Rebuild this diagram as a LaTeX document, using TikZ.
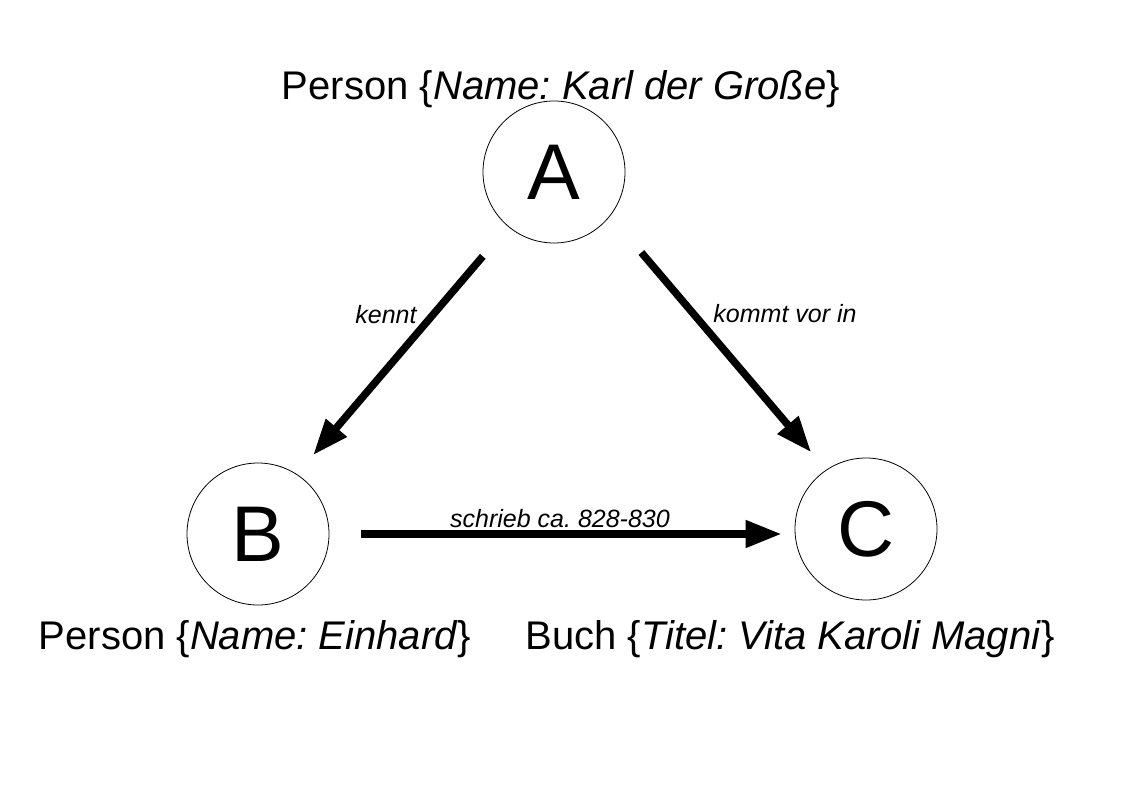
\documentclass[tikz,border=0pt]{standalone}
\usepackage{fontspec}
\setmainfont{Liberation Sans}
\usetikzlibrary{arrows.meta, positioning}
\frenchspacing

\begin{document}
\begin{tikzpicture}[
  x=1pt, y=-1pt,
  ent/.style={draw, circle, line width=0.8pt, minimum size=142pt, inner sep=0pt, font=\fontsize{79}{84}\selectfont},
  lbl/.style={anchor=base, inner sep=0pt, font=\fontsize{40}{44}\selectfont},
  elbl/.style={anchor=base, inner sep=0pt, font=\fontsize{25}{28}\selectfont\itshape},
  arr/.style={-{Triangle[length=36pt, width=26pt]}, line width=7.5pt}
]
\useasboundingbox (0,0) rectangle (1123,794);

\node[ent] (A) at (554,172) {A};
\node[ent] (B) at (258,534) {B};
\node[ent] (C) at (866,529) {C};

\node[lbl] (lblA) at (561,100) {Person \{\textit{Name: Karl der Große}\}};
\node[lbl] (lblB) at (255,649) {Person \{\textit{Name: Einhard}\}};
\node[lbl] (lblC) at (790,649) {Buch \{\textit{Titel: Vita Karoli Magni}\}};

\draw[arr, shorten <=39pt, shorten >=25pt] (A.-130) -- (B.57);
\draw[arr, shorten <=48pt, shorten >=23pt] (A.-38) -- (C.124);
\draw[arr, shorten <=32pt, shorten >=13pt] (B.east) -- (B.east -| C.west);

\node[elbl] (kennt) at (386,323) {kennt};
\node[elbl] (vor) at (785,322) {kommt vor in};
\node[elbl] (schrieb) at (560,527) {schrieb ca. 828-830};
\end{tikzpicture}
\end{document}
